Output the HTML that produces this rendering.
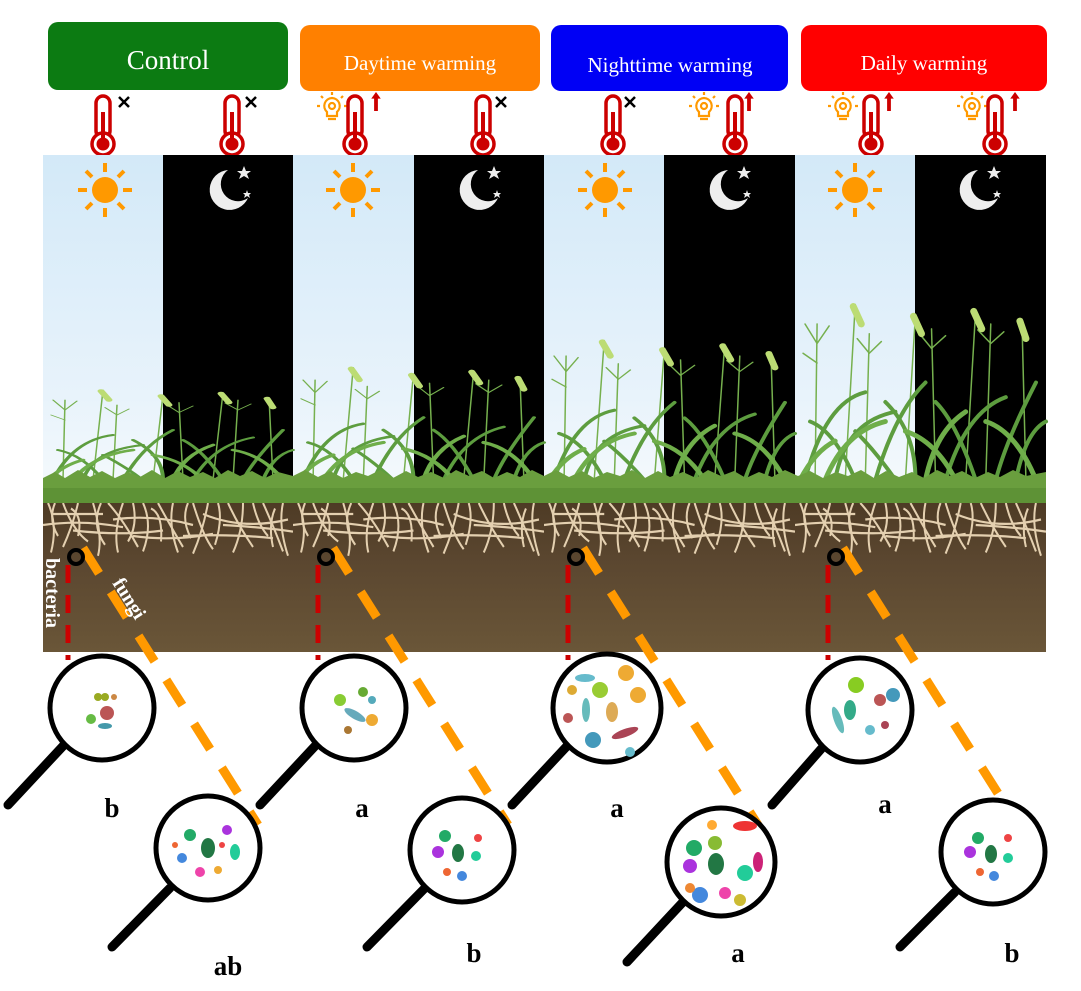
<!DOCTYPE html>
<html><head><meta charset="utf-8"><style>
html,body{margin:0;padding:0;background:#fff;}
svg{display:block;}
</style></head><body>
<svg width="1081" height="991" viewBox="0 0 1081 991" xmlns="http://www.w3.org/2000/svg">
<defs>
<linearGradient id="sky" x1="0" y1="0" x2="0" y2="1">
<stop offset="0" stop-color="#d3e9f8"/><stop offset="0.7" stop-color="#e8f3fb"/><stop offset="1" stop-color="#f6fafd"/>
</linearGradient>
<linearGradient id="soil" x1="0" y1="0" x2="0" y2="1">
<stop offset="0" stop-color="#4e3b25"/><stop offset="0.4" stop-color="#5b4730"/><stop offset="1" stop-color="#6a5638"/>
</linearGradient>
<symbol id="therm" viewBox="0 0 30 64" overflow="visible">
<rect x="8" y="2" width="14" height="42" rx="7" fill="#fff" stroke="#c00" stroke-width="3.5"/>
<circle cx="15" cy="50" r="11" fill="#fff" stroke="#c00" stroke-width="3.5"/>
<circle cx="15" cy="50" r="6.5" fill="#c00"/>
<rect x="13" y="18" width="4" height="30" fill="#c00"/>
</symbol>
<symbol id="cross" viewBox="0 0 14 14"><path d="M2 2L12 12M12 2L2 12" stroke="#000" stroke-width="2.5"/></symbol>
<symbol id="up" viewBox="0 0 10 20"><path d="M5 0L10 7H7V20H3V7H0Z" fill="#c00"/></symbol>
<symbol id="bulb" viewBox="0 0 30 30" overflow="visible">
<g stroke="#f90" stroke-width="2.2" fill="none">
<path d="M15 6a8 8 0 0 0-5 14v4h10v-4a8 8 0 0 0-5-14z"/>
<circle cx="15" cy="14" r="3"/>
<path d="M11 27h8M15 0v3M4 4l2 2M26 4l-2 2M0 14h3M27 14h3"/>
</g></symbol>
<symbol id="sun" viewBox="-30 -30 60 60">
<circle r="13" fill="#f90"/>
<g stroke="#f90" stroke-width="4">
<path d="M0-18V-27M0 18V27M-18 0H-27M18 0H27M13-13L19-19M-13-13L-19-19M13 13L19 19M-13 13L-19 19"/>
</g></symbol>
<symbol id="moon" viewBox="-30 -30 60 60">
<path d="M-2-20A20 20 0 1 0 18 8A16 16 0 0 1-2-20Z" fill="#eee"/>
<path d="M14-24l2 5 5 0-4 3 2 5-5-3-5 3 2-5-4-3 5 0z" fill="#eee"/>
<path d="M17 0l1 3 3 0-2 2 1 3-3-2-3 2 1-3-2-2 3 0z" fill="#eee"/>
</symbol>
<symbol id="grass" viewBox="0 0 250 200" preserveAspectRatio="none" overflow="visible">
<g fill="none" stroke-linecap="round">
<g stroke="#76b04e" stroke-width="1.5">
<path d="M20 200L22 40M22 60L10 40M22 60L34 42M22 80L8 70"/>
<path d="M70 200L74 50M74 70L62 55M74 70L86 58"/>
<path d="M140 200L136 45M136 65L124 50M136 65L150 52"/>
<path d="M190 200L195 40M195 60L182 46M195 60L208 48"/>
<path d="M110 200L120 30"/><path d="M230 200L226 35"/><path d="M50 200L60 20"/><path d="M170 200L180 25"/>
</g>
<g stroke="#5d9d3f" stroke-width="4">
<path d="M10 200Q30 120 70 110"/><path d="M40 200Q50 140 100 130"/>
<path d="M80 200Q100 130 130 100"/><path d="M120 200Q120 150 90 120"/>
<path d="M150 200Q170 130 210 115"/><path d="M180 200Q160 140 140 120"/>
<path d="M220 200Q230 150 250 140"/><path d="M60 200Q40 150 15 140"/>
<path d="M200 200Q210 160 240 100"/><path d="M100 200Q80 170 60 150"/>
</g>
<g stroke="#6fae4a" stroke-width="5">
<path d="M30 200Q50 150 90 140"/><path d="M130 200Q140 150 170 130"/><path d="M160 200Q140 160 110 150"/><path d="M240 200Q220 150 190 140"/><path d="M5 200Q20 170 40 160"/>
</g>
<g stroke="#bcdc74" stroke-width="7">
<path d="M58 22L66 40"/><path d="M118 32L126 50"/><path d="M178 27L186 45"/><path d="M224 37L230 55"/>
</g></g></symbol>
<symbol id="roots" viewBox="0 0 250 50" preserveAspectRatio="none">
<g stroke="#e4d0b0" stroke-width="2" fill="none">
<path d="M5 0Q15 20 8 45M20 0Q30 25 45 35M35 0Q30 20 20 40M50 0Q60 30 55 48M65 0Q80 15 95 40M80 0Q70 25 75 45M100 0Q110 20 100 44M115 0Q130 25 140 40M130 0Q125 20 135 45M150 0Q160 30 170 42M165 0Q160 25 150 46M185 0Q195 20 210 40M200 0Q200 25 190 45M220 0Q230 20 240 44M240 0Q235 20 245 48M10 10H60M70 15Q110 10 150 20M160 10Q200 25 245 15M30 25Q80 30 120 25M140 30Q190 28 230 32"/>
<path d="M12 0Q5 15 15 30M28 5Q40 12 35 30M58 0Q48 20 62 38M90 0Q95 20 85 35M108 5Q120 10 118 35M145 0Q138 15 148 32M175 0Q180 15 172 38M210 0Q215 20 225 30M232 5Q225 20 230 40M0 20Q40 15 80 22M90 30Q130 35 170 28M180 20Q220 22 250 26"/>
</g></symbol>
</defs>

<!-- header boxes -->
<rect x="48" y="22" width="240" height="68" rx="10" fill="#0c7b12"/>
<rect x="300" y="25" width="240" height="66" rx="10" fill="#ff8000"/>
<rect x="551" y="25" width="237" height="66" rx="10" fill="#0000f5"/>
<rect x="801" y="25" width="246" height="66" rx="10" fill="#ff0000"/>
<g font-family="Liberation Serif, serif" fill="#fff" text-anchor="middle">
<text x="168" y="69" font-size="27">Control</text>
<text x="420" y="70" font-size="21">Daytime warming</text>
<text x="670" y="72" font-size="21">Nighttime warming</text>
<text x="924" y="70" font-size="21">Daily warming</text>
</g>

<!-- thermometers -->
<use href="#therm" x="88" y="94" width="30" height="64"/><use href="#cross" x="117" y="95" width="14" height="14"/>
<use href="#therm" x="217" y="94" width="30" height="64"/><use href="#cross" x="244" y="95" width="14" height="14"/>
<use href="#bulb" x="317" y="92" width="30" height="30"/><use href="#therm" x="340" y="94" width="30" height="64"/><use href="#up" x="371" y="92" width="10" height="19"/>
<use href="#therm" x="468" y="94" width="30" height="64"/><use href="#cross" x="494" y="95" width="14" height="14"/>
<use href="#therm" x="598" y="94" width="30" height="64"/><use href="#cross" x="623" y="95" width="14" height="14"/>
<use href="#bulb" x="689" y="92" width="30" height="30"/><use href="#therm" x="720" y="94" width="30" height="64"/><use href="#up" x="744" y="92" width="10" height="19"/>
<use href="#bulb" x="828" y="92" width="30" height="30"/><use href="#therm" x="856" y="94" width="30" height="64"/><use href="#up" x="884" y="92" width="10" height="19"/>
<use href="#bulb" x="957" y="92" width="30" height="30"/><use href="#therm" x="980" y="94" width="30" height="64"/><use href="#up" x="1010" y="92" width="10" height="19"/>

<!-- sky panels -->
<rect x="43" y="155" width="120" height="345" fill="url(#sky)"/>
<rect x="163" y="155" width="130" height="345" fill="#000"/>
<rect x="293" y="155" width="121" height="345" fill="url(#sky)"/>
<rect x="414" y="155" width="130" height="345" fill="#000"/>
<rect x="544" y="155" width="120" height="345" fill="url(#sky)"/>
<rect x="664" y="155" width="131" height="345" fill="#000"/>
<rect x="795" y="155" width="120" height="345" fill="url(#sky)"/>
<rect x="915" y="155" width="131" height="345" fill="#000"/>
<use href="#sun" x="75" y="160" width="60" height="60"/><use href="#moon" x="200" y="160" width="60" height="60"/>
<use href="#sun" x="323" y="160" width="60" height="60"/><use href="#moon" x="450" y="160" width="60" height="60"/>
<use href="#sun" x="575" y="160" width="60" height="60"/><use href="#moon" x="700" y="160" width="60" height="60"/>
<use href="#sun" x="825" y="160" width="60" height="60"/><use href="#moon" x="950" y="160" width="60" height="60"/>

<!-- grass -->
<use href="#grass" x="43" y="380" width="250" height="100"/>
<use href="#grass" x="293" y="355" width="251" height="125"/>
<use href="#grass" x="544" y="325" width="251" height="155"/>
<use href="#grass" x="795" y="285" width="251" height="195"/>

<!-- soil -->
<rect x="43" y="503" width="1003" height="149" fill="url(#soil)"/>
<use href="#roots" x="43" y="503" width="250" height="55"/>
<use href="#roots" x="293" y="503" width="251" height="55"/>
<use href="#roots" x="544" y="503" width="251" height="55"/>
<use href="#roots" x="795" y="503" width="251" height="55"/>
<path d="M43 478L55 472L65 478L78 470L90 477L102 471L115 478L128 472L140 477L152 470L165 478L178 471L190 477L203 472L215 478L228 470L240 476L252 471L265 478L278 472L293 476L305 470L318 477L330 471L343 478L356 472L368 476L380 470L393 478L406 471L418 477L431 472L444 478L456 470L469 476L482 471L494 478L507 472L520 477L532 470L544 476L556 470L569 477L582 471L594 478L607 472L620 476L632 470L645 478L658 471L670 477L683 472L696 478L708 470L721 476L734 471L746 478L759 472L772 477L785 470L798 476L810 471L823 478L836 472L848 476L861 470L874 478L886 471L899 477L912 472L924 478L937 470L950 476L962 471L975 478L988 472L1000 477L1013 470L1026 476L1046 472V503H43Z" fill="#6a9e3e"/>
<rect x="43" y="488" width="1003" height="15" fill="#5e9236"/>

<!-- connectors -->
<g fill="none">
<g stroke="#c00" stroke-width="5" stroke-dasharray="18 12">
<path d="M68 565V660"/><path d="M318 565V660"/><path d="M568 565V660"/><path d="M828 565V660"/>
</g>
<g stroke="#f90" stroke-width="9" stroke-dasharray="30 22">
<path d="M83 548L258 825"/><path d="M333 548L508 825"/><path d="M583 548L758 825"/><path d="M843 548L1018 825"/>
</g>
<g stroke="#000" stroke-width="4">
<circle cx="76" cy="557" r="7"/><circle cx="326" cy="557" r="7"/><circle cx="576" cy="557" r="7"/><circle cx="836" cy="557" r="7"/>
</g>
</g>

<!-- labels on soil -->
<text transform="translate(46,558) rotate(90)" font-family="Liberation Serif, serif" font-weight="bold" font-size="20" fill="#fff">bacteria</text>
<text transform="translate(112,583) rotate(58)" font-family="Liberation Serif, serif" font-weight="bold" font-size="20" fill="#fff">fungi</text>

<!-- magnifiers -->
<g stroke="#000" stroke-width="9" stroke-linecap="round">
<path d="M64 745L8 805"/><path d="M316 745L260 805"/><path d="M568 745L512 805"/><path d="M822 748L772 805"/>
<path d="M170 888L112 947"/><path d="M425 888L367 947"/><path d="M683 902L627 962"/><path d="M955 892L900 947"/>
</g>
<g fill="#fff" stroke="#000" stroke-width="5">
<circle cx="102" cy="708" r="52"/><circle cx="354" cy="708" r="52"/><circle cx="607" cy="708" r="54"/><circle cx="860" cy="710" r="52"/>
<circle cx="208" cy="848" r="52"/><circle cx="462" cy="850" r="52"/><circle cx="721" cy="862" r="54"/><circle cx="993" cy="852" r="52"/>
</g>

<!-- microbes -->
<g>
<circle cx="98" cy="697" r="4" fill="#9a2"/><circle cx="105" cy="697" r="4" fill="#9a2"/><circle cx="107" cy="713" r="7" fill="#b55"/><circle cx="91" cy="719" r="5" fill="#6b4"/><ellipse cx="105" cy="726" rx="7" ry="3" fill="#49a"/><circle cx="114" cy="697" r="3" fill="#c84"/>
<circle cx="340" cy="700" r="6" fill="#8c3"/><ellipse cx="355" cy="715" rx="12" ry="4" fill="#6ab" transform="rotate(30 355 715)"/><circle cx="372" cy="720" r="6" fill="#ea3"/><circle cx="363" cy="692" r="5" fill="#6a3"/><circle cx="348" cy="730" r="4" fill="#a73"/><circle cx="372" cy="700" r="4" fill="#5ab"/>
<circle cx="600" cy="690" r="8" fill="#9c3"/><circle cx="626" cy="673" r="8" fill="#ea3"/><ellipse cx="586" cy="710" rx="4" ry="12" fill="#6bb"/><ellipse cx="612" cy="712" rx="6" ry="10" fill="#da5"/><circle cx="638" cy="695" r="8" fill="#ea3"/><ellipse cx="625" cy="733" rx="14" ry="4" fill="#a45" transform="rotate(-20 625 733)"/><circle cx="593" cy="740" r="8" fill="#49b"/><circle cx="572" cy="690" r="5" fill="#da3"/><ellipse cx="585" cy="678" rx="10" ry="4" fill="#6bc"/><circle cx="630" cy="752" r="5" fill="#6bc"/><circle cx="568" cy="718" r="5" fill="#b55"/>
<circle cx="856" cy="685" r="8" fill="#8c2"/><ellipse cx="850" cy="710" rx="6" ry="10" fill="#3a8"/><circle cx="880" cy="700" r="6" fill="#b55"/><circle cx="893" cy="695" r="7" fill="#49b"/><ellipse cx="838" cy="720" rx="4" ry="14" fill="#6bb" transform="rotate(-20 838 720)"/><circle cx="870" cy="730" r="5" fill="#6bc"/><circle cx="885" cy="725" r="4" fill="#a45"/>
</g>
<g>
<ellipse cx="208" cy="848" rx="7" ry="10" fill="#274"/><circle cx="190" cy="835" r="6" fill="#2a6"/><circle cx="227" cy="830" r="5" fill="#a3d"/><ellipse cx="235" cy="852" rx="5" ry="8" fill="#2c9"/><circle cx="182" cy="858" r="5" fill="#48d"/><circle cx="200" cy="872" r="5" fill="#e4a"/><circle cx="218" cy="870" r="4" fill="#ea3"/><circle cx="222" cy="845" r="3" fill="#e44"/><circle cx="175" cy="845" r="3" fill="#e63"/>
<ellipse cx="458" cy="853" rx="6" ry="9" fill="#274"/><circle cx="445" cy="836" r="6" fill="#2a6"/><circle cx="438" cy="852" r="6" fill="#a3d"/><circle cx="476" cy="856" r="5" fill="#2c9"/><circle cx="462" cy="876" r="5" fill="#48d"/><circle cx="447" cy="872" r="4" fill="#e63"/><circle cx="478" cy="838" r="4" fill="#e44"/>
<ellipse cx="716" cy="864" rx="8" ry="11" fill="#274"/><circle cx="694" cy="848" r="8" fill="#2a6"/><ellipse cx="745" cy="826" rx="12" ry="5" fill="#e33"/><circle cx="690" cy="866" r="7" fill="#a3d"/><circle cx="745" cy="873" r="8" fill="#2c9"/><circle cx="715" cy="843" r="7" fill="#8b3"/><circle cx="700" cy="895" r="8" fill="#48d"/><circle cx="725" cy="893" r="6" fill="#e4a"/><ellipse cx="758" cy="862" rx="5" ry="10" fill="#c27"/><circle cx="740" cy="900" r="6" fill="#cb3"/><circle cx="690" cy="888" r="5" fill="#e83"/><circle cx="712" cy="825" r="5" fill="#fa3"/>
<ellipse cx="991" cy="854" rx="6" ry="9" fill="#274"/><circle cx="978" cy="838" r="6" fill="#2a6"/><circle cx="970" cy="852" r="6" fill="#a3d"/><circle cx="1008" cy="858" r="5" fill="#2c9"/><circle cx="994" cy="876" r="5" fill="#48d"/><circle cx="980" cy="872" r="4" fill="#e63"/><circle cx="1008" cy="838" r="4" fill="#e44"/>
</g>

<!-- letters -->
<g font-family="Liberation Serif, serif" font-weight="bold" font-size="27" fill="#000" text-anchor="middle">
<text x="112" y="817">b</text><text x="228" y="975">ab</text>
<text x="362" y="817">a</text><text x="474" y="962">b</text>
<text x="617" y="817">a</text><text x="738" y="962">a</text>
<text x="885" y="813">a</text><text x="1012" y="962">b</text>
</g>
</svg>
</body></html>
